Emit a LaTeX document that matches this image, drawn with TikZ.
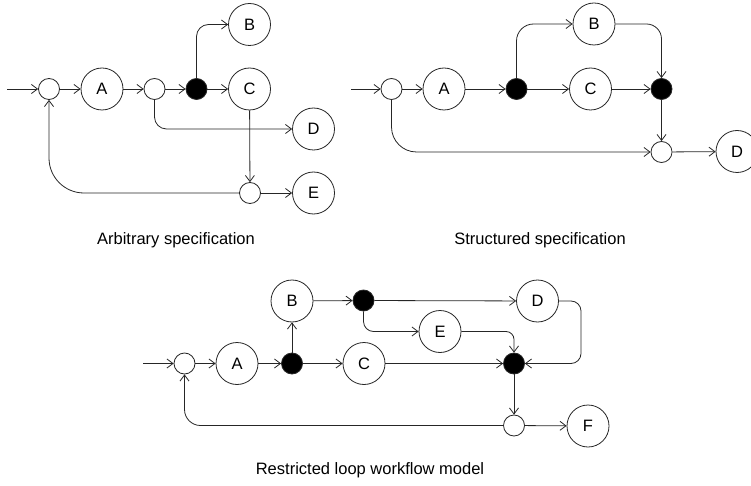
\documentclass[tikz,border=0pt]{standalone}
\usepackage{fontspec}
\setmainfont{Liberation Sans}
\usetikzlibrary{arrows.meta}
\begin{document}
\begin{tikzpicture}[x=1pt,y=-1pt,
  task/.style={circle,draw=black!85,line width=0.8pt,minimum size=42pt,inner sep=0pt,font=\fontsize{16.5}{19}\selectfont},
  gate/.style={circle,draw=black!85,line width=0.8pt,minimum size=21pt,inner sep=0pt},
  andgate/.style={gate,fill=black},
  flow/.style={draw=black!85,-{Straight Barb[length=6pt,width=9pt]},line width=0.8pt},
  caption/.style={font=\fontsize{16.5}{19}\selectfont}]
\useasboundingbox (0,0) rectangle (751,486);
% ---------- Panel 1 ----------
\coordinate (p1in) at (7,89);
\node[gate] (p1s1) at (49,89) {};
\node[task] (p1A) at (102,89) {A};
\node[gate] (p1s2) at (154.5,89) {};
\node[andgate] (p1k) at (196.5,89) {};
\node[task] (p1C) at (249.5,89) {C};
\node[task] (p1B) at (249.5,24.5) {B};
\node[task] (p1D) at (313.5,129) {D};
\node[task] (p1E) at (313.5,193) {E};
\node[gate] (p1s3) at (250,193) {};
\node[caption] (p1cap) at (176,240) {Arbitrary specification};
\draw[flow] (p1in) -- (p1s1);
\draw[flow] (p1s1) -- (p1A);
\draw[flow] (p1A) -- (p1s2);
\draw[flow] (p1s2) -- (p1k);
\draw[flow] (p1k) -- (p1C);
\draw[flow,rounded corners=12pt] (p1k) |- (p1B);
\draw[flow,rounded corners=12pt] (p1s2) |- (p1D);
\draw[flow] (p1C) -- (p1s3);
\draw[flow] (p1s3) -- (p1E);
\draw[flow,rounded corners=35pt] (p1s3) -| (p1s1);
% ---------- Panel 2 ----------
\coordinate (p2in) at (351,89);
\node[gate] (p2s1) at (391.5,89) {};
\node[task] (p2A) at (444,89) {A};
\node[andgate] (p2k1) at (516.5,89) {};
\node[task] (p2C) at (590.5,89) {C};
\node[task] (p2B) at (594,24) {B};
\node[andgate] (p2k2) at (661.5,89) {};
\node[gate] (p2s2) at (661.5,152) {};
\node[task] (p2D) at (737,151.5) {D};
\node[caption] (p2cap) at (540,240) {Structured specification};
\draw[flow] (p2in) -- (p2s1);
\draw[flow] (p2s1) -- (p2A);
\draw[flow] (p2A) -- (p2k1);
\draw[flow] (p2k1) -- (p2C);
\draw[flow] (p2C) -- (p2k2);
\draw[flow,rounded corners=17pt] (p2k1) |- (p2B);
\draw[flow,rounded corners=15pt] (p2B) -| (p2k2);
\draw[flow] (p2k2) -- (p2s2);
\draw[flow,rounded corners=25pt] (p2s1) |- (p2s2);
\draw[flow] (p2s2) -- (p2D);
% ---------- Panel 3 ----------
\coordinate (p3in) at (143,363.5);
\node[gate] (p3s1) at (184.5,363.5) {};
\node[task] (p3A) at (237,363.5) {A};
\node[andgate] (p3k1) at (292,363.5) {};
\node[task] (p3B) at (292,301) {B};
\node[task] (p3C) at (364,363.5) {C};
\node[andgate] (p3k2) at (363.5,300.5) {};
\node[task] (p3E) at (440,331.5) {E};
\node[task] (p3D) at (537.5,301) {D};
\node[andgate] (p3k3) at (514,363.5) {};
\node[gate] (p3s2) at (514,425.5) {};
\node[task] (p3F) at (588,426) {F};
\coordinate (p3Dr) at (581,301);
\node[caption] (p3cap) at (370,470) {Restricted loop workflow model};
\draw[flow] (p3in) -- (p3s1);
\draw[flow] (p3s1) -- (p3A);
\draw[flow] (p3A) -- (p3k1);
\draw[flow] (p3k1) -- (p3B);
\draw[flow] (p3k1) -- (p3C);
\draw[flow] (p3C) -- (p3k3);
\draw[flow] (p3B) -- (p3k2);
\draw[flow] (p3k2) -- (p3D);
\draw[flow,rounded corners=10pt] (p3k2) |- (p3E);
\draw[flow,rounded corners=8pt] (p3E) -| (p3k3);
\draw[flow,rounded corners=10pt] (p3D) -- (p3Dr) |- (p3k3);
\draw[flow] (p3k3) -- (p3s2);
\draw[flow] (p3s2) -- (p3F);
\draw[flow,rounded corners=16pt] (p3s2) -| (p3s1);
\end{tikzpicture}
\end{document}
